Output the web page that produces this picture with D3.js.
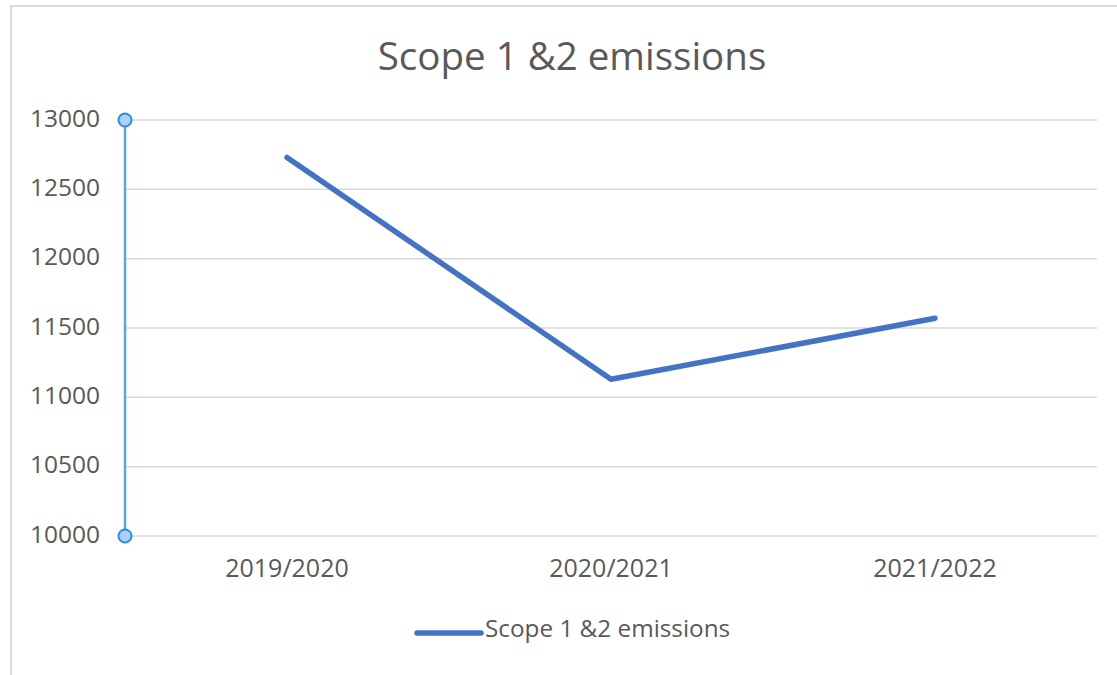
<!DOCTYPE html>
<html><head><meta charset="utf-8">
<script src="https://cdn.jsdelivr.net/npm/d3@7"></script>
<style>
html,body{margin:0;padding:0;background:#fff;}
svg{display:block;}
text{font-family:"Open Sans",sans-serif;fill:#595959;}
</style></head>
<body>
<svg id="c" width="1117" height="675"></svg>
<script>
const title = "Scope 1 &2 emissions";
const categories = ["2019/2020", "2020/2021", "2021/2022"];
const seriesName = "Scope 1 &2 emissions";
const values = [12730, 11130, 11570];
const yTicks = [10000, 10500, 11000, 11500, 12000, 12500, 13000];

const svg = d3.select("#c");
// chart frame
svg.append("path").attr("d","M11,675 L11,6 L1117,6")
  .attr("fill","none").attr("stroke","#d9d9d9").attr("stroke-width",2);

const x = d3.scaleBand().domain(categories).range([125, 1097]);
const y = d3.scaleLinear().domain([10000, 13000]).range([536, 120]);

// gridlines
svg.append("g").selectAll("line").data(yTicks).join("line")
  .attr("x1",125).attr("x2",1097)
  .attr("y1",d=>y(d)).attr("y2",d=>y(d))
  .attr("stroke","#d9d9d9").attr("stroke-width",1.5);

// y axis labels
const yAxis = svg.append("g").attr("transform","translate(125,0)")
  .call(d3.axisLeft(y).tickValues(yTicks).tickSize(0).tickPadding(25).tickFormat(d3.format("d")));
yAxis.select(".domain").remove();
yAxis.selectAll("text").style("font-family","'Open Sans',sans-serif").style("font-size","24.5px")
  .attr("fill","#595959").attr("dy","0.25em");

// x axis labels
const xAxis = svg.append("g").attr("transform","translate(0,536)")
  .call(d3.axisBottom(x).tickSize(0).tickPadding(23));
xAxis.select(".domain").remove();
xAxis.selectAll("text").style("font-family","'Open Sans',sans-serif").style("font-size","25px").attr("fill","#595959");

// selected y axis line with handles
svg.append("line").attr("x1",125).attr("x2",125).attr("y1",y(13000)).attr("y2",y(10000))
  .attr("stroke","#5aa6e8").attr("stroke-width",2.5);
svg.append("g").selectAll("circle").data([13000,10000]).join("circle")
  .attr("cx",125).attr("cy",d=>y(d)).attr("r",6.5)
  .attr("fill","#a9d1f7").attr("stroke","#2e8ddf").attr("stroke-width",2);

// series line
const line = d3.line().x((d,i)=>x(categories[i])+x.bandwidth()/2).y(d=>y(d));
svg.append("path").datum(values).attr("d",line)
  .attr("fill","none").attr("stroke","#4472c4").attr("stroke-width",5.5)
  .attr("stroke-linecap","round").attr("stroke-linejoin","round");

// title
svg.append("text").attr("x",572).attr("y",70).attr("text-anchor","middle")
  .style("font-size","38.5px").text(title);

// legend
svg.append("line").attr("x1",417).attr("x2",481).attr("y1",633).attr("y2",633)
  .attr("stroke","#4472c4").attr("stroke-width",5.5).attr("stroke-linecap","round");
svg.append("text").attr("x",485).attr("y",637).style("font-size","24.3px").text(seriesName);
</script>
</body></html>
